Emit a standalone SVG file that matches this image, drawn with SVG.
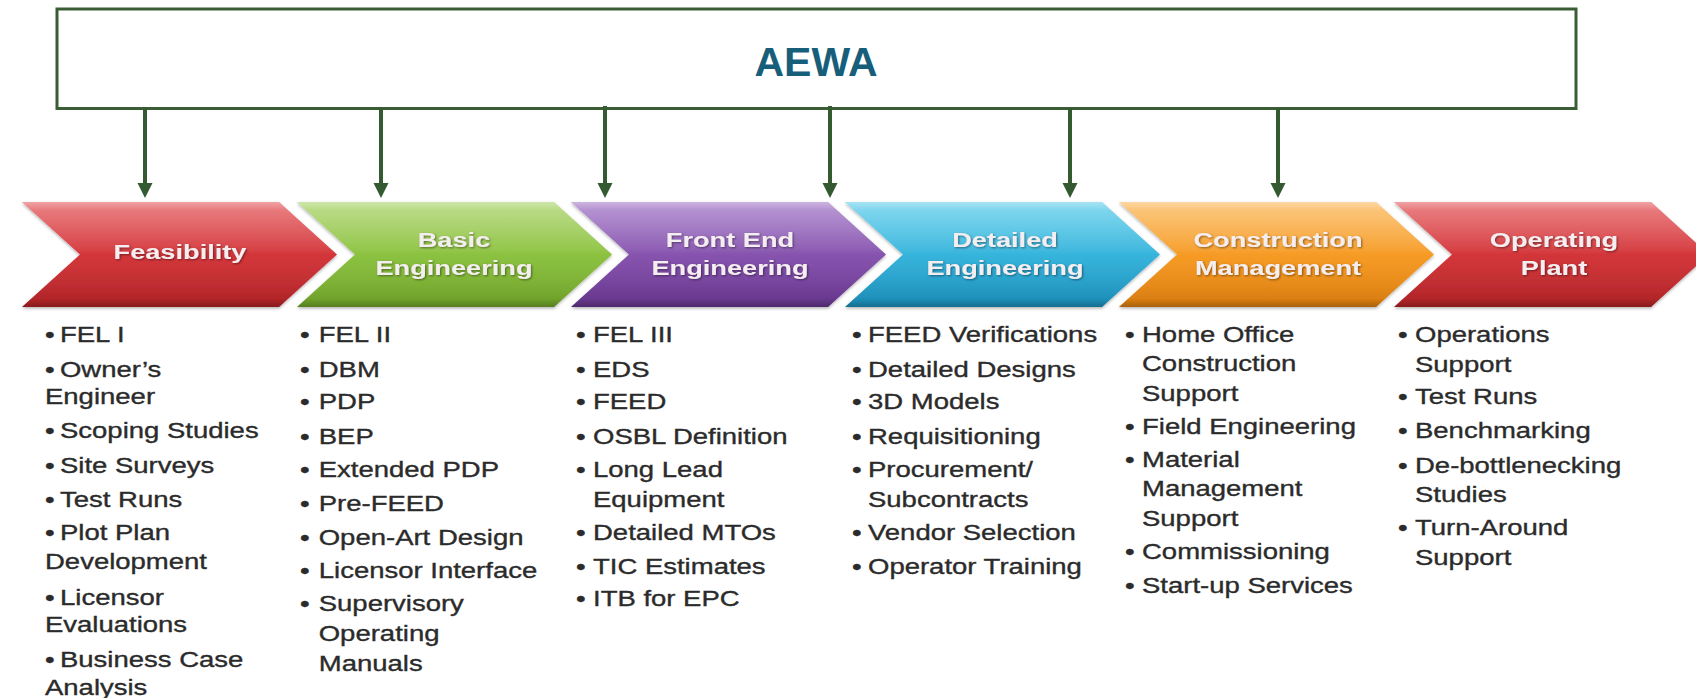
<svg xmlns="http://www.w3.org/2000/svg" width="1696" height="698" viewBox="0 0 1696 698">
<defs>
<style>
.box{fill:#ffffff;stroke:#3b5d35;stroke-width:3}
.conn{stroke:#335a30;stroke-width:4;fill:none;marker-end:url(#ah)}
.aewa{font-family:"Liberation Sans",Arial,sans-serif;font-weight:bold;font-size:41px;fill:#175e7b;text-anchor:middle}
.ttl{font-family:"Liberation Sans",Arial,sans-serif;font-weight:bold;font-size:20px;fill:#f5eef1;text-anchor:middle;filter:url(#ts)}
.bd{font-family:"Liberation Sans",Arial,sans-serif;font-size:22px;fill:#2b2b2b;stroke:#2b2b2b;stroke-width:0.35}
.gloss{fill:url(#gloss)}
.chev{filter:url(#cs)}
</style>
<marker id="ah" viewBox="0 0 16 16" markerWidth="16" markerHeight="16" markerUnits="userSpaceOnUse" refX="1" refY="8" orient="auto">
<path d="M0,0.5 L15,8 L0,15.5 Z" fill="#335a30"/>
</marker>
<filter id="ts" x="-10%" y="-30%" width="120%" height="160%">
<feDropShadow dx="0.8" dy="1" stdDeviation="0.8" flood-color="#000" flood-opacity="0.45"/>
</filter>
<filter id="cs" x="-5%" y="-10%" width="110%" height="125%">
<feDropShadow dx="0" dy="1.5" stdDeviation="1.5" flood-color="#000" flood-opacity="0.3"/>
</filter>
<linearGradient id="gloss" x1="0" y1="0" x2="0" y2="1">
<stop offset="0" stop-color="#fff" stop-opacity="0.45"/>
<stop offset="0.08" stop-color="#fff" stop-opacity="0.22"/>
<stop offset="0.45" stop-color="#fff" stop-opacity="0.05"/>
<stop offset="0.5" stop-color="#fff" stop-opacity="0"/>
<stop offset="0.92" stop-color="#000" stop-opacity="0.05"/>
<stop offset="1" stop-color="#000" stop-opacity="0.25"/>
</linearGradient>
<linearGradient id="gRed" x1="0" y1="0" x2="0" y2="1">
<stop offset="0" stop-color="#e4585b"/><stop offset="0.5" stop-color="#d3363a"/><stop offset="1" stop-color="#b72428"/>
</linearGradient>
<linearGradient id="gGreen" x1="0" y1="0" x2="0" y2="1">
<stop offset="0" stop-color="#a8d266"/><stop offset="0.5" stop-color="#8cc240"/><stop offset="1" stop-color="#73a82b"/>
</linearGradient>
<linearGradient id="gPurple" x1="0" y1="0" x2="0" y2="1">
<stop offset="0" stop-color="#a277c6"/><stop offset="0.5" stop-color="#8653ae"/><stop offset="1" stop-color="#6a3792"/>
</linearGradient>
<linearGradient id="gBlue" x1="0" y1="0" x2="0" y2="1">
<stop offset="0" stop-color="#5fcdeb"/><stop offset="0.5" stop-color="#36b4dc"/><stop offset="1" stop-color="#1c93bf"/>
</linearGradient>
<linearGradient id="gOrange" x1="0" y1="0" x2="0" y2="1">
<stop offset="0" stop-color="#fbb758"/><stop offset="0.5" stop-color="#f69b25"/><stop offset="1" stop-color="#e3820f"/>
</linearGradient>
<path id="chev" d="M0,0 L257,0 L315,52.5 L257,105 L0,105 L58,52.5 Z"/>
</defs>
<rect width="1696" height="698" fill="#ffffff"/>

<g id="aewa">
<rect class="box" x="57" y="9" width="1519" height="99.5"/>
<text class="aewa" x="816" y="76">AEWA</text>
</g>

<g id="feasibility">
<g class="chev" transform="translate(22,202)"><use href="#chev" fill="url(#gRed)"/><use href="#chev" class="gloss"/></g>
<text class="ttl" transform="translate(180,259) scale(1.36,1)">Feasibility</text>
<g class="bd" transform="matrix(1.25,0,0,1,45,0)">
<text x="0" y="342">•</text><text x="12" y="342">FEL I</text>
<text x="0" y="377">•</text><text x="12" y="377">Owner’s</text>
<text x="0" y="404">Engineer</text>
<text x="0" y="438">•</text><text x="12" y="438">Scoping Studies</text>
<text x="0" y="473">•</text><text x="12" y="473">Site Surveys</text>
<text x="0" y="507">•</text><text x="12" y="507">Test Runs</text>
<text x="0" y="540">•</text><text x="12" y="540">Plot Plan</text>
<text x="0" y="569">Development</text>
<text x="0" y="605">•</text><text x="12" y="605">Licensor</text>
<text x="0" y="632">Evaluations</text>
<text x="0" y="667">•</text><text x="12" y="667">Business Case</text>
<text x="0" y="695">Analysis</text>
</g>
</g>

<g id="basic-engineering">
<g class="chev" transform="translate(297,202)"><use href="#chev" fill="url(#gGreen)"/><use href="#chev" class="gloss"/></g>
<text class="ttl" transform="translate(454,247) scale(1.36,1)">Basic</text>
<text class="ttl" transform="translate(454,275) scale(1.36,1)">Engineering</text>
<g class="bd" transform="matrix(1.25,0,0,1,300,0)">
<text x="0" y="342">•</text><text x="15" y="342">FEL II</text>
<text x="0" y="377">•</text><text x="15" y="377">DBM</text>
<text x="0" y="409">•</text><text x="15" y="409">PDP</text>
<text x="0" y="444">•</text><text x="15" y="444">BEP</text>
<text x="0" y="477">•</text><text x="15" y="477">Extended PDP</text>
<text x="0" y="511">•</text><text x="15" y="511">Pre-FEED</text>
<text x="0" y="545">•</text><text x="15" y="545">Open-Art Design</text>
<text x="0" y="578">•</text><text x="15" y="578">Licensor Interface</text>
<text x="0" y="611">•</text><text x="15" y="611">Supervisory</text>
<text x="15" y="641">Operating</text>
<text x="15" y="671">Manuals</text>
</g>
</g>

<g id="front-end-engineering">
<g class="chev" transform="translate(571,202)"><use href="#chev" fill="url(#gPurple)"/><use href="#chev" class="gloss"/></g>
<text class="ttl" transform="translate(730,247) scale(1.36,1)">Front End</text>
<text class="ttl" transform="translate(730,275) scale(1.36,1)">Engineering</text>
<g class="bd" transform="matrix(1.25,0,0,1,576,0)">
<text x="0" y="342">•</text><text x="13.6" y="342">FEL III</text>
<text x="0" y="377">•</text><text x="13.6" y="377">EDS</text>
<text x="0" y="409">•</text><text x="13.6" y="409">FEED</text>
<text x="0" y="444">•</text><text x="13.6" y="444">OSBL Definition</text>
<text x="0" y="477">•</text><text x="13.6" y="477">Long Lead</text>
<text x="13.6" y="507">Equipment</text>
<text x="0" y="540">•</text><text x="13.6" y="540">Detailed MTOs</text>
<text x="0" y="574">•</text><text x="13.6" y="574">TIC Estimates</text>
<text x="0" y="606">•</text><text x="13.6" y="606">ITB for EPC</text>
</g>
</g>

<g id="detailed-engineering">
<g class="chev" transform="translate(845,202)"><use href="#chev" fill="url(#gBlue)"/><use href="#chev" class="gloss"/></g>
<text class="ttl" transform="translate(1005,247) scale(1.36,1)">Detailed</text>
<text class="ttl" transform="translate(1005,275) scale(1.36,1)">Engineering</text>
<g class="bd" transform="matrix(1.25,0,0,1,852,0)">
<text x="0" y="342">•</text><text x="12.8" y="342">FEED Verifications</text>
<text x="0" y="377">•</text><text x="12.8" y="377">Detailed Designs</text>
<text x="0" y="409">•</text><text x="12.8" y="409">3D Models</text>
<text x="0" y="444">•</text><text x="12.8" y="444">Requisitioning</text>
<text x="0" y="477">•</text><text x="12.8" y="477">Procurement/</text>
<text x="12.8" y="507">Subcontracts</text>
<text x="0" y="540">•</text><text x="12.8" y="540">Vendor Selection</text>
<text x="0" y="574">•</text><text x="12.8" y="574">Operator Training</text>
</g>
</g>

<g id="construction-management">
<g class="chev" transform="translate(1119,202)"><use href="#chev" fill="url(#gOrange)"/><use href="#chev" class="gloss"/></g>
<text class="ttl" transform="translate(1278,247) scale(1.36,1)">Construction</text>
<text class="ttl" transform="translate(1278,275) scale(1.36,1)">Management</text>
<g class="bd" transform="matrix(1.25,0,0,1,1125,0)">
<text x="0" y="342">•</text><text x="13.6" y="342">Home Office</text>
<text x="13.6" y="371">Construction</text>
<text x="13.6" y="401">Support</text>
<text x="0" y="434">•</text><text x="13.6" y="434">Field Engineering</text>
<text x="0" y="467">•</text><text x="13.6" y="467">Material</text>
<text x="13.6" y="496">Management</text>
<text x="13.6" y="526">Support</text>
<text x="0" y="559">•</text><text x="13.6" y="559">Commissioning</text>
<text x="0" y="593">•</text><text x="13.6" y="593">Start-up Services</text>
</g>
</g>

<g id="operating-plant">
<g class="chev" transform="translate(1394,202)"><use href="#chev" fill="url(#gRed)"/><use href="#chev" class="gloss"/></g>
<text class="ttl" transform="translate(1554,247) scale(1.36,1)">Operating</text>
<text class="ttl" transform="translate(1554,275) scale(1.36,1)">Plant</text>
<g class="bd" transform="matrix(1.25,0,0,1,1398,0)">
<text x="0" y="342">•</text><text x="13.6" y="342">Operations</text>
<text x="13.6" y="372">Support</text>
<text x="0" y="404">•</text><text x="13.6" y="404">Test Runs</text>
<text x="0" y="438">•</text><text x="13.6" y="438">Benchmarking</text>
<text x="0" y="473">•</text><text x="13.6" y="473">De-bottlenecking</text>
<text x="13.6" y="502">Studies</text>
<text x="0" y="535">•</text><text x="13.6" y="535">Turn-Around</text>
<text x="13.6" y="565">Support</text>
</g>
</g>

<g id="connectors">
<line class="conn" x1="145" y1="107" x2="145" y2="184"/>
<line class="conn" x1="381" y1="107" x2="381" y2="184"/>
<line class="conn" x1="605" y1="106" x2="605" y2="184"/>
<line class="conn" x1="830" y1="106" x2="830" y2="184"/>
<line class="conn" x1="1070" y1="108" x2="1070" y2="184"/>
<line class="conn" x1="1278" y1="108" x2="1278" y2="184"/>
</g>
</svg>
